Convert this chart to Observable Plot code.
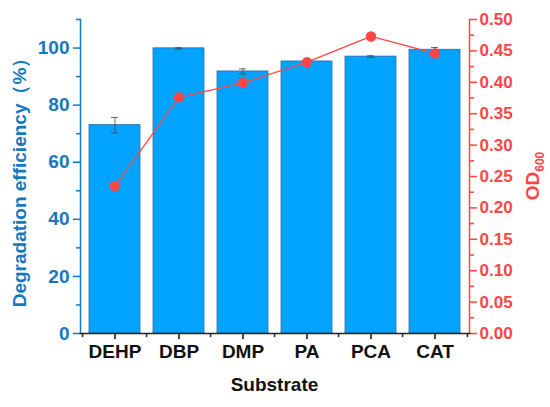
<!DOCTYPE html>
<html><head><meta charset="utf-8">
<script src="https://cdn.jsdelivr.net/npm/d3@7"></script>
<script src="https://cdn.jsdelivr.net/npm/@observablehq/plot@0.6"></script>
<style>
body{margin:0;background:#fff}
svg{font-family:"Liberation Sans",Arial,"Noto Sans CJK SC",sans-serif}
</style>
</head><body><div id="chart"></div>
<script>
const substrates = ["DEHP", "DBP", "DMP", "PA", "PCA", "CAT"];
const efficiency = [73.0, 99.9, 91.8, 95.3, 97.0, 99.4];
const efficiencyErr = [2.7, 0.2, 0.9, 0.7, 0.3, 0.8];
const od600 = [0.235, 0.376, 0.399, 0.432, 0.473, 0.446];
const leftTicks = [0, 20, 40, 60, 80, 100];
const leftMinorTicks = [10, 30, 50, 70, 90, 110];
const rightTicks = [0, 0.05, 0.10, 0.15, 0.20, 0.25, 0.30, 0.35, 0.40, 0.45, 0.50];
const rightMinorTicks = [0.025, 0.075, 0.125, 0.175, 0.225, 0.275, 0.325, 0.375, 0.425, 0.475];

const leftMax = 110, rightMax = 0.5;
const odFactor = leftMax / rightMax;

const blue = "#1478BE", red = "#FF4545", barFill = "#00A3FF";
const W = 550, H = 407;
const mL = 80, mR = 81, mT = 19, mB = 74;
const pIn = 0.2, pOut = 0.1;
const step = (W - mL - mR) / (substrates.length - pIn + 2 * pOut);

const data = substrates.map((s, i) => ({
  s, e: efficiency[i], lo: efficiency[i] - efficiencyErr[i], hi: efficiency[i] + efficiencyErr[i],
  od: od600[i] * odFactor
}));

const plot = Plot.plot({
  width: W, height: H,
  marginLeft: mL, marginRight: mR, marginTop: mT, marginBottom: mB,
  style: {fontFamily: '"Liberation Sans", Arial, sans-serif', background: "#fff"},
  x: {domain: substrates, paddingInner: pIn, paddingOuter: pOut, axis: null},
  y: {domain: [0, leftMax], axis: null},
  marks: [
    Plot.barY(data, {x: "s", y: "e", fill: barFill, stroke: "#2a6e9c", strokeWidth: 0.8}),
    Plot.ruleX(data, {x: "s", y1: "lo", y2: "hi", stroke: "#444", strokeWidth: 0.8}),
    Plot.tickY(data, {x: "s", y: "lo", stroke: "#444", strokeWidth: 0.8, insetLeft: 22, insetRight: 22}),
    Plot.tickY(data, {x: "s", y: "hi", stroke: "#444", strokeWidth: 0.8, insetLeft: 22, insetRight: 22}),
    Plot.line(data, {x: "s", y: "od", stroke: red, strokeWidth: 1.3}),
    Plot.dot(data, {x: "s", y: "od", r: 4.5, fill: red, stroke: red}),
    // left axis
    Plot.frame({anchor: "left", stroke: blue, strokeWidth: 1.5}),
    Plot.axisY({anchor: "left", ticks: leftTicks, tickSize: 7, tickPadding: 4, color: blue,
      fontSize: 19, fontWeight: "bold", label: null, strokeWidth: 1.5}),
    Plot.axisY({anchor: "left", ticks: leftMinorTicks, tickSize: 4, text: null, color: blue, label: null, strokeWidth: 1.5}),
    // right axis
    Plot.frame({anchor: "right", stroke: red, strokeWidth: 1.5}),
    Plot.axisY({anchor: "right", ticks: rightTicks.map(v => v * odFactor), tickSize: 7, tickPadding: 3,
      tickFormat: d => (d / odFactor).toFixed(2), color: red, fontSize: 17, fontWeight: "bold", label: null, strokeWidth: 1.5}),
    Plot.axisY({anchor: "right", ticks: rightMinorTicks.map(v => v * odFactor), tickSize: 4, text: null,
      color: red, label: null, strokeWidth: 1.5}),
    // bottom axis
    Plot.frame({anchor: "bottom", stroke: "#222", strokeWidth: 1.5}),
    Plot.axisX({anchor: "bottom", ticks: substrates, tickSize: 6, tickPadding: 5, color: "#111",
      fontSize: 19, fontWeight: "bold", label: null, strokeWidth: 1.5}),
    Plot.axisX({anchor: "bottom", ticks: substrates, tickSize: 4, text: null, dx: -step / 2, color: "#222", label: null, strokeWidth: 1.5}),
    Plot.axisX({anchor: "bottom", ticks: substrates.slice(-1), tickSize: 4, text: null, dx: step / 2, color: "#222", label: null, strokeWidth: 1.5})
  ]
});

const svg = d3.select(plot);
svg.append("text")
  .attr("transform", "translate(26,178) rotate(-90)")
  .attr("text-anchor", "middle")
  .attr("fill", blue).attr("font-size", 19).attr("font-weight", "bold")
  .text("Degradation efficiency（%）");
svg.append("text")
  .attr("x", (mL + W - mR) / 2).attr("y", 391)
  .attr("text-anchor", "middle")
  .attr("fill", "#111").attr("font-size", 19).attr("font-weight", "bold")
  .text("Substrate");
const od = svg.append("text")
  .attr("transform", "translate(539,176) rotate(-90)")
  .attr("text-anchor", "middle")
  .attr("fill", red).attr("font-size", 19).attr("font-weight", "bold");
od.append("tspan").text("OD");
od.append("tspan").attr("font-size", 12).attr("dy", 5).text("600");

document.getElementById("chart").appendChild(plot);
</script>
</body></html>
